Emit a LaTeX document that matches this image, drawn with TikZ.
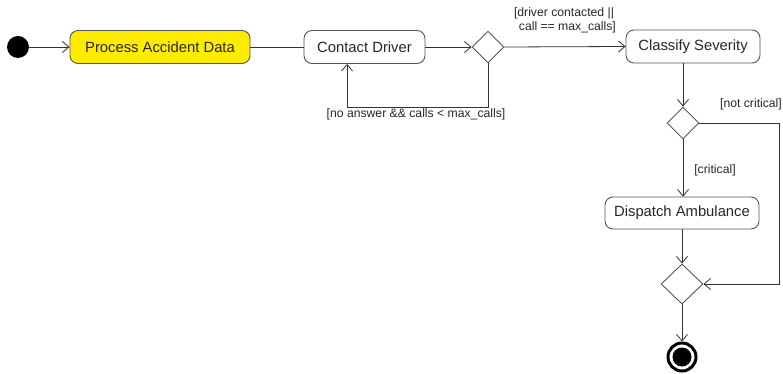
\documentclass[tikz,border=0pt]{standalone}
\usepackage{fontspec}
\setmainfont{Liberation Sans}
\usetikzlibrary{shapes.geometric,arrows.meta}
\definecolor{actyellow}{HTML}{FEEC00}
\definecolor{bordergray}{HTML}{555555}
\tikzset{
  action/.style={draw=bordergray, line width=0.9pt, rounded corners=8pt, fill=white, minimum height=33pt, inner sep=0pt, font=\fontsize{14.8}{17}\selectfont, text=black!85},
  decision/.style={draw=bordergray, line width=0.9pt, shape=diamond, fill=white, inner sep=0pt, minimum width=32pt, minimum height=32pt},
  flow/.style={draw=black!80, line width=0.8pt, -{Straight Barb[length=6.5pt,width=11pt]}},
  plain/.style={draw=black!80, line width=0.8pt},
  guard/.style={font=\fontsize{12.2}{14}\selectfont, text=black!85, inner sep=1pt, align=center}
}
\begin{document}
\begin{tikzpicture}[x=1pt,y=-1pt]
\useasboundingbox (0,0) rectangle (783,374);
\node[circle, fill=black, minimum size=22pt, inner sep=0pt] (start) at (18,47) {};
\node[action, fill=actyellow, minimum width=180pt] (pad) at (160,47) {Process Accident Data};
\node[action, minimum width=121pt] (contact) at (364.5,47) {Contact Driver};
\node[decision] (d1) at (488,47) {};
\node[action, minimum width=134pt] (classify) at (693,46.5) {Classify Severity};
\node[decision] (d2) at (683,123) {};
\node[action, minimum width=154pt, minimum height=32pt] (dispatch) at (682,213) {Dispatch Ambulance};
\node[decision, minimum width=42pt, minimum height=40pt] (d3) at (682,284) {};
\node[circle, draw=black, line width=3pt, minimum size=28pt, inner sep=0pt,
  path picture={\fill[black] (path picture bounding box.center) circle (9.5pt);}] (end) at (682,357) {};

\coordinate (loopc) at (347,107);
\coordinate (nc1) at (779,123);
\coordinate (nc2) at (779,284);

\draw[flow] (start) -- (pad);
\draw[plain] (pad) -- (contact);
\draw[flow] (contact) -- (d1);
\draw[flow] (d1.east) -- (classify.west);
\node[guard] (g1) at (564,20) {[driver contacted ||\\\ \ call == max\_calls]};
\draw[flow] (d1.south) |- (loopc) -- (loopc |- contact.south);
\node[guard, anchor=north] (g2) at (416,107) {[no answer \&\& calls < max\_calls]};
\draw[flow] (d2 |- classify.south) -- (d2.north);
\draw[flow] (d2.south) -- (d2.south |- dispatch.north);
\node[guard] (g3) at (715,170) {[critical]};
\draw[plain] (d2.east) -- (nc1);
\node[guard, anchor=south] (g4) at (751,111) {[not critical]};
\draw[flow] (nc1) -- (nc2) -- (d3.east);
\draw[flow] (dispatch.south) -- (d3.north);
\draw[flow] (d3.south) -- (end.north);
\end{tikzpicture}
\end{document}
